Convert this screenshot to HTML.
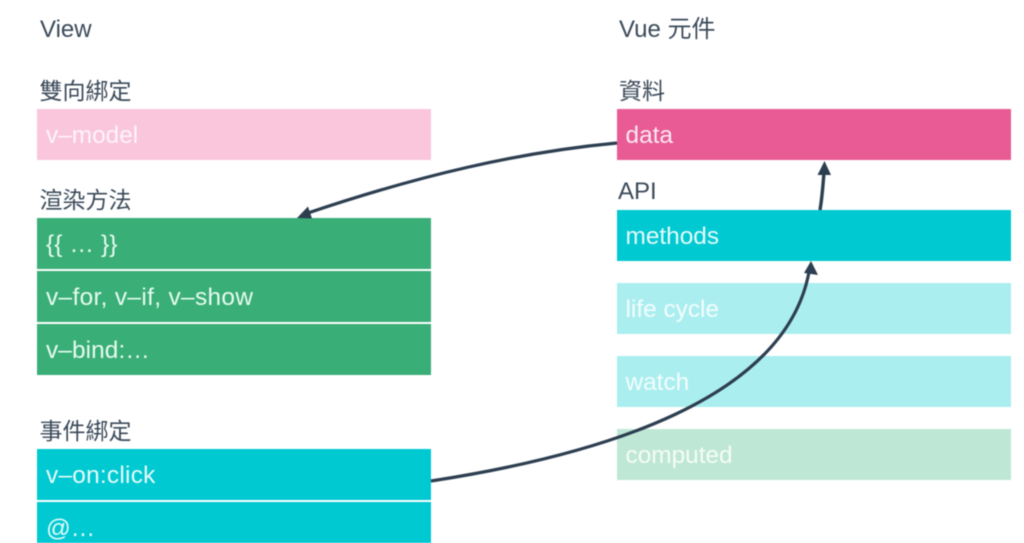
<!DOCTYPE html>
<html><head><meta charset="utf-8">
<style>
html,body{margin:0;padding:0;background:#fff}
#c{position:relative;width:1024px;height:543px;overflow:hidden;background:#fff;font-family:"Liberation Sans","Noto Sans CJK TC",sans-serif;filter:blur(0.45px)}
.b{position:absolute;font-size:24.4px;color:#fff;box-sizing:border-box;padding-left:9px;padding-top:3px;display:flex;align-items:center;white-space:pre}
.l{left:37px;width:394px}
.r{left:616.5px;width:394.5px}
.t{position:absolute;font-size:23px;color:#3b4a5a;line-height:28px;white-space:nowrap}
svg{position:absolute;left:0;top:0}
</style></head><body><div id="c">
<div class="t" style="left:40px;top:16px;font-size:24px">View</div>
<div class="t" style="left:619px;top:16px;font-size:24px">Vue 元件</div>
<div class="t" style="left:39.5px;top:77px">雙向綁定</div>
<div class="t" style="left:619px;top:77px">資料</div>
<div class="t" style="left:39.5px;top:186px">渲染方法</div>
<div class="t" style="left:618px;top:178px;font-size:24px">API</div>
<div class="t" style="left:39.5px;top:416.5px">事件綁定</div>

<div class="b l" style="top:109px;height:51px;background:#f9c6dc;color:rgba(255,255,255,.8)">v–model</div>
<div class="b l" style="top:218px;height:50.5px;background:#3aae77;color:#e6fbf0;letter-spacing:.15px">{{ … }}</div>
<div class="b l" style="top:270.5px;height:51px;background:#3aae77;color:#e6fbf0;letter-spacing:.35px">v–for, v–if, v–show</div>
<div class="b l" style="top:323.5px;height:51px;background:#3aae77;color:#e6fbf0;letter-spacing:.1px">v–bind:…</div>
<div class="b l" style="top:448.5px;height:51px;background:#00c9d1;color:#e6fbfb;letter-spacing:.25px">v–on:click</div>
<div class="b l" style="top:501.5px;height:51px;background:#00c9d1;color:#e6fbfb;align-items:flex-start;padding-top:13px">@…</div>

<div class="b r" style="top:109px;height:51px;background:#e85b94;color:#fde8f1">data</div>
<div class="b r" style="top:210px;height:51px;background:#00c9d1;color:#e6fbfb">methods</div>
<div class="b r" style="top:282.5px;height:51px;background:#abeef0;color:rgba(255,255,255,.85)">life cycle</div>
<div class="b r" style="top:355.5px;height:51px;background:#abeef0;color:rgba(255,255,255,.85)">watch</div>
<div class="b r" style="top:429px;height:51px;background:#bfe7d5;color:rgba(255,255,255,.85)">computed</div>

<svg width="1024" height="543" viewBox="0 0 1024 543">
<path d="M617 143 C520 152 420 175 305 214" fill="none" stroke="#2c3e50" stroke-width="3.2"/>
<polygon points="297,218 308,206.5 312,218.5" fill="#2c3e50"/>
<path d="M431 481 C600 455 785 400 809 272" fill="none" stroke="#2c3e50" stroke-width="3.2"/>
<polygon points="811,261 818,275 804,273" fill="#2c3e50"/>
<path d="M820 210 C822 198 823 186 824 172" fill="none" stroke="#2c3e50" stroke-width="3.4"/>
<polygon points="824.5,161 831,175 817.5,175" fill="#2c3e50"/>
</svg>
</div></body></html>
